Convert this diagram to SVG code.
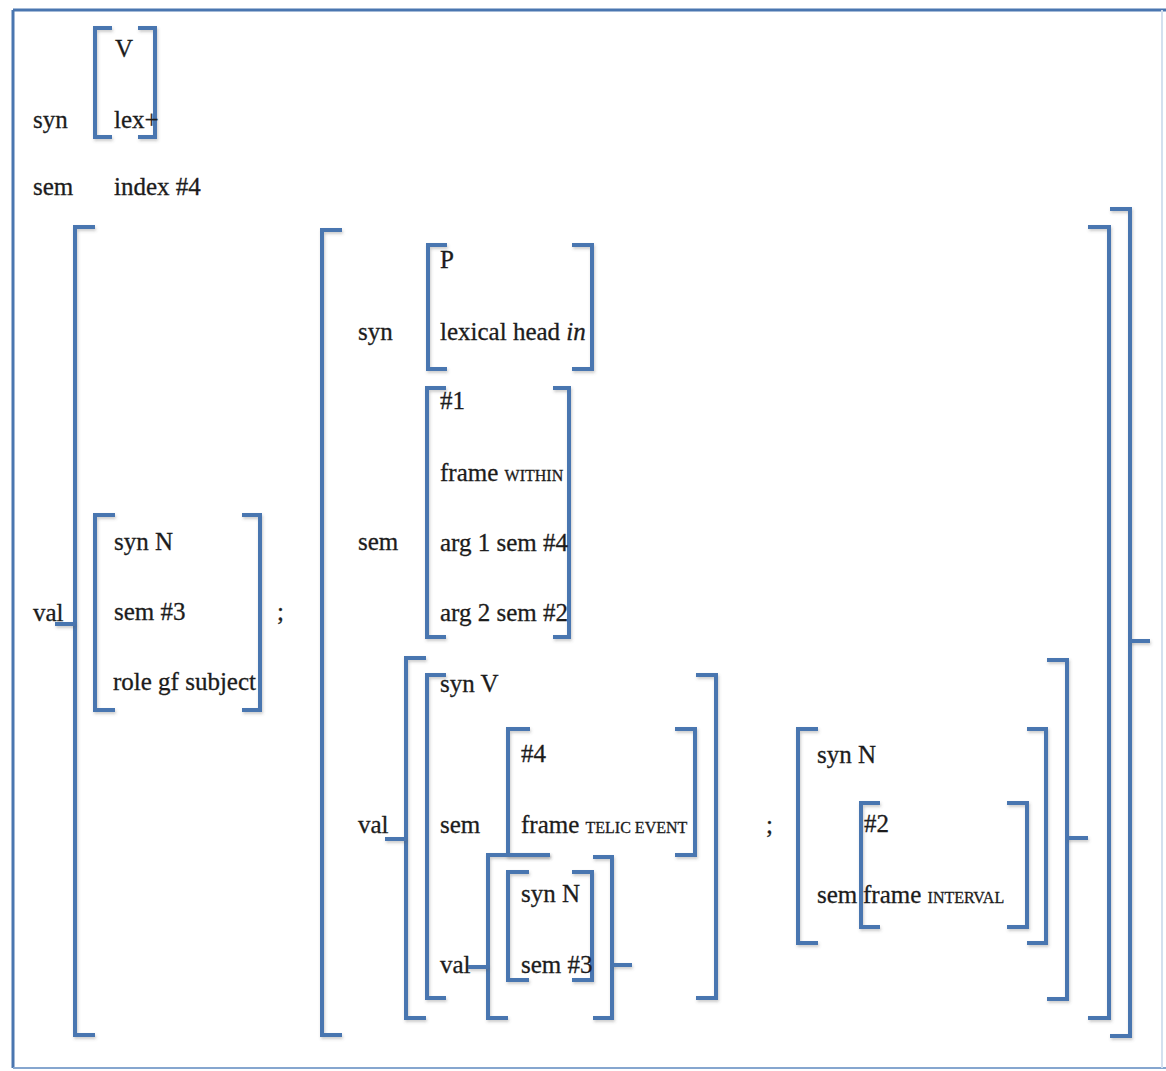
<svg xmlns="http://www.w3.org/2000/svg" width="1166" height="1071" viewBox="0 0 1166 1071">
<defs>
<filter id="sh" filterUnits="userSpaceOnUse" x="0" y="0" width="1166" height="1071">
<feDropShadow dx="1" dy="2" stdDeviation="1.5" flood-color="#555" flood-opacity="0.3"/>
</filter>
<style>
.b{fill:none;stroke:#4a76b0;stroke-width:4;filter:url(#sh)}
.c{fill:none;stroke:#4a76b0;stroke-width:4;filter:url(#sh)}
text{font-family:"Liberation Serif","Times New Roman",serif;font-size:25px;fill:#1c1c1c;stroke:#1c1c1c;stroke-width:0.3}
.sc{font-size:16px}
.it{font-style:italic}
</style>
</defs>
<rect width="1166" height="1071" fill="#ffffff"/>
<g id="frame">
<line x1="13" y1="10" x2="1166" y2="10" stroke="#4a76b0" stroke-width="3"/>
<line x1="13" y1="10" x2="13" y2="1068" stroke="#4a76b0" stroke-width="3"/>
<line x1="13" y1="1068" x2="1166" y2="1068" stroke="#86a6cf" stroke-width="2"/>
<line x1="1162" y1="10" x2="1162" y2="1068" stroke="#d3e0ef" stroke-width="2"/>
</g>

<g id="top-syn">
<path class="b" d="M112 28H95V137H112"/>
<path class="b" d="M138 28H155V137H138"/>
<text x="115" y="57">V</text>
<text x="114" y="128">lex+</text>
</g>
<text x="33" y="128">syn</text>
<text x="33" y="195">sem</text>
<text x="114" y="195">index #4</text>
<text x="33" y="621">val</text>

<g id="outer-right">
<path class="b" d="M1110 209H1130V1036H1110"/>
</g>

<g id="val-list">
<path class="b" d="M95 227H75V1035H95"/>
<path class="b" d="M1088 227H1109V1018H1088"/>
</g>

<g id="subject">
<path class="b" d="M115 515H95V710H115"/>
<path class="b" d="M242 515H260V710H242"/>
<text x="114" y="550">syn N</text>
<text x="114" y="620">sem #3</text>
<text x="113" y="690">role gf subject</text>
</g>
<text x="277" y="620">;</text>

<g id="pp">
<path class="b" d="M342 230H322V1035H342"/>
<text x="358" y="340">syn</text>
<text x="358" y="550">sem</text>
<text x="358" y="833">val</text>
</g>

<g id="pp-syn">
<path class="b" d="M447 245H428V369H447"/>
<path class="b" d="M572 245H592V369H572"/>
<text x="440" y="268">P</text>
<text x="440" y="340">lexical head <tspan class="it">in</tspan></text>
</g>

<g id="pp-sem">
<path class="b" d="M446 388H427V637H446"/>
<path class="b" d="M553 388H569V637H553"/>
<text x="440" y="409">#1</text>
<text x="440" y="481">frame <tspan class="sc">WITHIN</tspan></text>
<text x="440" y="551">arg 1 sem #4</text>
<text x="440" y="621">arg 2 sem #2</text>
</g>

<g id="pp-val">
<path class="b" d="M426 658H406V1018H426"/>
<path class="b" d="M1047 660H1067V999H1047"/>
</g>

<g id="verb">
<path class="b" d="M446 675H427V998H446"/>
<path class="b" d="M696 675H716V998H696"/>
<text x="440" y="692">syn V</text>
<text x="440" y="833">sem</text>
<text x="440" y="973">val</text>
</g>

<g id="verb-sem">
<path class="b" d="M530 729H508V855H550"/>
<path class="b" d="M675 729H695V855H675"/>
<text x="521" y="762">#4</text>
<text x="521" y="833">frame <tspan class="sc">TELIC EVENT</tspan></text>
</g>

<g id="verb-val">
<path class="b" d="M550 855H488V1018H508"/>
<path class="b" d="M593 857H612V1018H593"/>
</g>

<g id="verb-val-n">
<path class="b" d="M529 872H508V980H529"/>
<path class="b" d="M572 872H592V980H572"/>
<text x="521" y="902">syn N</text>
<text x="521" y="973">sem #3</text>
</g>

<text x="766" y="833">;</text>

<g id="interval">
<path class="b" d="M818 729H798V943H818"/>
<path class="b" d="M1027 729H1046V943H1027"/>
<text x="817" y="763">syn N</text>
<text x="817" y="903">sem</text>
</g>

<g id="interval-sem">
<path class="b" d="M880 803H861V927H880"/>
<path class="b" d="M1007 803H1027V927H1007"/>
<text x="864" y="832">#2</text>
<text x="863" y="903">frame <tspan class="sc">INTERVAL</tspan></text>
</g>

<g id="connectors">
<path class="c" d="M55 624H75"/>
<path class="c" d="M385 839H406"/>
<path class="c" d="M468 967H488"/>
<path class="c" d="M612 965H632"/>
<path class="c" d="M1067 838H1088"/>
<path class="c" d="M1130 641H1150"/>
</g>
</svg>
